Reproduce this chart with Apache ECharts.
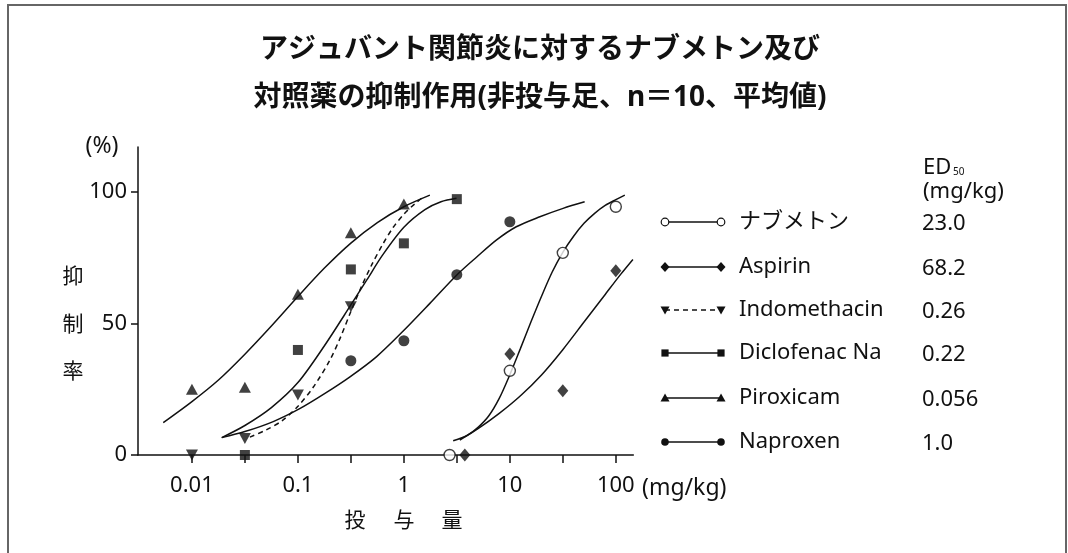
<!DOCTYPE html>
<html>
<head>
<meta charset="utf-8">
<script src="https://cdn.jsdelivr.net/npm/echarts@6/dist/echarts.min.js"></script>
<style>
  html, body { margin: 0; padding: 0; background: #fff; }
  #chart { width: 1068px; height: 553px; }
</style>
</head>
<body>
<div id="chart"></div>
<script>
// ---- axis ticks and labels (dose in mg/kg, log scale) ----
const doseTickValues = [0.01, 0.0316, 0.1, 0.316, 1, 3.16, 10, 31.6, 100];
const doseLabelValues = [0.01, 0.1, 1, 10, 100];
const doseLabelTexts = ['0.01', '0.1', '1', '10', '100'];
const rateTickValues = [0, 50, 100];

// ---- drugs ----
const drugNames = ['ナブメトン', 'Aspirin', 'Indomethacin', 'Diclofenac Na', 'Piroxicam', 'Naproxen'];
const ed50Texts = ['23.0', '68.2', '0.26', '0.22', '0.056', '1.0'];

// measured points: [dose mg/kg, inhibition %]
const pointsNabumetone = [[2.7, 0], [10, 32.0], [31.6, 76.8], [100, 94.3]];
const pointsAspirin = [[3.76, 0], [10, 38.4], [31.6, 24.4], [100, 70.0]];
const pointsIndomethacin = [[0.01, 0], [0.0316, 6.3], [0.1, 22.8], [0.316, 56.3]];
const pointsDiclofenac = [[0.0316, 0], [0.1, 39.9], [0.316, 70.5], [1, 80.4], [3.16, 97.2]];
const pointsPiroxicam = [[0.01, 25.0], [0.0316, 25.7], [0.1, 61.1], [0.316, 84.4], [1, 95.3]];
const pointsNaproxen = [[0.316, 35.8], [1, 43.4], [3.16, 68.5], [10, 88.6]];

// fitted dose-response curves: [dose mg/kg, inhibition %]
const curveNabumetone = [[2.92, 5.4], [3.98, 7.5], [5.01, 10.5], [6.31, 14.8], [7.94, 21.5], [10.0, 30.5],
  [12.6, 40.5], [15.8, 50.5], [20.0, 60.5], [25.1, 69.5], [31.6, 77.0], [39.8, 83.0], [50.1, 88.0],
  [63.1, 91.8], [79.4, 94.8], [100, 97.0], [121.6, 98.7]];
const curveAspirin = [[3.37, 5.7], [5.01, 10.0], [7.94, 15.8], [12.6, 22.5], [20.0, 30.5], [31.6, 40.0],
  [50.1, 50.5], [79.4, 61.0], [112, 68.8], [145, 74.3]];
const curveIndomethacin = [[0.0352, 6.8], [0.0501, 9.5], [0.0708, 13.0], [0.1, 18.5], [0.141, 26.0],
  [0.2, 36.0], [0.251, 44.5], [0.316, 54.5], [0.398, 64.0], [0.501, 72.5], [0.631, 80.0],
  [0.794, 86.5], [1.0, 91.5], [1.26, 95.3], [1.52, 98.0]];
const curveDiclofenac = [[0.0191, 6.6], [0.0316, 11.2], [0.0562, 18.0], [0.1, 27.5], [0.178, 41.5],
  [0.316, 57.0], [0.447, 66.5], [0.631, 76.0], [1.0, 86.5], [1.58, 93.2], [2.24, 96.2], [3.14, 97.5]];
const curvePiroxicam = [[0.00536, 12.3], [0.01, 20.3], [0.0178, 28.5], [0.0316, 38.3], [0.0562, 49.0],
  [0.1, 60.2], [0.178, 71.0], [0.316, 80.5], [0.562, 88.3], [1.0, 94.3], [1.76, 98.7]];
const curveNaproxen = [[0.0191, 6.6], [0.0316, 8.9], [0.0585, 12.7], [0.104, 17.6], [0.18, 23.4],
  [0.31, 29.7], [0.55, 37.3], [0.98, 47.0], [1.76, 57.6], [3.16, 68.4], [4.9, 75.3], [7.5, 81.7],
  [11.5, 86.7], [19.2, 90.5], [31.8, 93.7], [50.8, 96.2]];

// ---- drawing ----
const FONT = "'Noto Sans', 'Noto Sans CJK JP', sans-serif";
const INK = '#111';
const lg = v => Math.log10(v);
const toLog = arr => arr.map(([d, r]) => [lg(d), r]);

const drugs = [
  { points: pointsNabumetone, curve: curveNabumetone, symbol: 'circle', size: 11, open: true },
  { points: pointsAspirin, curve: curveAspirin, symbol: 'diamond', size: [11, 13] },
  { points: pointsIndomethacin, curve: curveIndomethacin, symbol: 'triangle', size: [12, 11], rotate: 180, dashed: true },
  { points: pointsDiclofenac, curve: curveDiclofenac, symbol: 'rect', size: 10 },
  { points: pointsPiroxicam, curve: curvePiroxicam, symbol: 'triangle', size: [12, 11] },
  { points: pointsNaproxen, curve: curveNaproxen, symbol: 'circle', size: 11 }
];

const labelByLog = {};
doseLabelValues.forEach((d, i) => { labelByLog[lg(d).toFixed(3)] = doseLabelTexts[i]; });

const series = [];
drugs.forEach((dg, i) => {
  series.push({
    name: drugNames[i] + ' curve',
    type: 'line',
    data: toLog(dg.curve),
    smooth: 0.3,
    showSymbol: false,
    silent: true,
    lineStyle: { color: INK, width: 1.5, type: dg.dashed ? [5, 4] : 'solid' },
    z: 2
  });
  series.push({
    name: drugNames[i],
    type: 'scatter',
    data: toLog(dg.points),
    symbol: dg.symbol,
    symbolSize: dg.size,
    symbolRotate: dg.rotate || 0,
    itemStyle: dg.open
      ? { color: '#fff', borderColor: INK, borderWidth: 1.4 }
      : { color: INK },
    z: 4
  });
});

// legend rows
const legendRowY = [222, 267, 310, 353, 398, 442];
const legendMarkX = [665, 721];
function legendMark(kind, cx, cy, open) {
  const fill = { fill: open ? '#fff' : INK, stroke: INK, lineWidth: open ? 1.2 : 0 };
  if (kind === 'circle') return { type: 'circle', shape: { cx, cy, r: 3.8 }, style: fill, z: 10 };
  if (kind === 'rect') return { type: 'rect', shape: { x: cx - 3.6, y: cy - 3.6, width: 7.2, height: 7.2 }, style: fill, z: 10 };
  if (kind === 'diamond') return { type: 'polygon', shape: { points: [[cx, cy - 5], [cx + 4.5, cy], [cx, cy + 5], [cx - 4.5, cy]] }, style: fill, z: 10 };
  if (kind === 'up') return { type: 'polygon', shape: { points: [[cx, cy - 4.5], [cx + 4.5, cy + 3.5], [cx - 4.5, cy + 3.5]] }, style: fill, z: 10 };
  return { type: 'polygon', shape: { points: [[cx, cy + 4.5], [cx + 4.5, cy - 3.5], [cx - 4.5, cy - 3.5]] }, style: fill, z: 10 };
}
const legendKinds = ['circle', 'diamond', 'down', 'rect', 'up', 'circle'];

function label(text, x, y, size, align, weight) {
  return {
    type: 'text', x, y,
    style: {
      text, font: (weight ? weight + ' ' : '') + size + 'px ' + FONT, fill: INK,
      align: align || 'center', verticalAlign: 'middle',
      textAlign: align || 'center', textVerticalAlign: 'middle'
    }
  };
}

const graphics = [
  { type: 'rect', shape: { x: 8, y: 5, width: 1058, height: 570 }, style: { fill: 'none', stroke: '#666', lineWidth: 2 }, silent: true },
  label('アジュバント関節炎に対するナブメトン及び', 540, 50, 28, 'center', 'bold'),
  label('対照薬の抑制作用(非投与足、n＝10、平均値)', 540, 98, 28, 'center', 'bold'),
  label('(%)', 102, 146, 23),
  label('(mg/kg)', 642, 488, 23, 'left'),
  label('ED', 923, 168, 22, 'left'),
  label('50', 953, 172.5, 10, 'left'),
  label('(mg/kg)', 923, 192, 22, 'left')
];
['抑', '制', '率'].forEach((ch, i) => graphics.push(label(ch, 73, [277, 325, 372][i], 21)));
['投', '与', '量'].forEach((ch, i) => graphics.push(label(ch, [355, 404, 452][i], 521, 21)));
drugNames.forEach((name, i) => {
  const y = legendRowY[i];
  graphics.push({ type: 'line', shape: { x1: legendMarkX[0], y1: y, x2: legendMarkX[1], y2: y }, style: { stroke: INK, lineWidth: 1.5, lineDash: i === 2 ? [5, 4] : null }, z: 9 });
  legendMarkX.forEach(x => graphics.push(legendMark(legendKinds[i], x, y, i === 0)));
  graphics.push(label(name, 739, y, 22, 'left'));
  graphics.push(label(ed50Texts[i], 922, y + 2, 22, 'left'));
});

const chart = echarts.init(document.getElementById('chart'), null, { renderer: 'canvas' });
chart.setOption({
  animation: false,
  backgroundColor: '#fff',
  textStyle: { fontFamily: FONT },
  grid: { left: 138, right: 434.7, top: 147, bottom: 98, containLabel: false },
  xAxis: {
    type: 'value',
    min: -2.509,
    max: 2.165,
    splitLine: { show: false },
    axisLine: { show: true, onZero: false, lineStyle: { color: INK, width: 1.5 } },
    axisTick: { show: true, length: 8, lineStyle: { color: INK, width: 1.5 }, customValues: doseTickValues.map(lg) },
    axisLabel: {
      customValues: doseLabelValues.map(lg),
      margin: 20,
      fontSize: 22,
      color: INK,
      fontFamily: FONT,
      formatter: v => labelByLog[(+v).toFixed(3)] || ''
    }
  },
  yAxis: {
    type: 'value',
    min: 0,
    max: 117,
    splitLine: { show: false },
    axisLine: { show: true, onZero: false, lineStyle: { color: INK, width: 1.5 } },
    axisTick: { show: true, length: 7, lineStyle: { color: INK, width: 1.5 }, customValues: rateTickValues },
    axisLabel: { customValues: rateTickValues, margin: 11, fontSize: 22, color: INK, fontFamily: FONT }
  },
  graphic: { elements: graphics },
  series
});
</script>
</body>
</html>
